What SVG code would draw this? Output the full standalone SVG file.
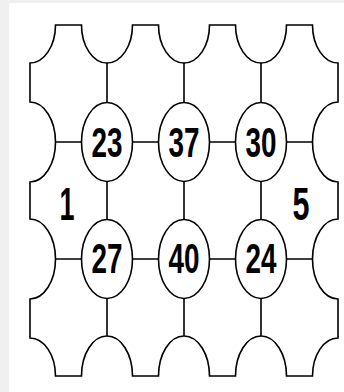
<svg xmlns="http://www.w3.org/2000/svg" width="344" height="392" viewBox="0 0 344 392">
<style>
.ln{fill:none;stroke:#000;stroke-width:1.6}
.nd{fill:#fff;stroke:#000;stroke-width:1.6}
.t{font-family:"Liberation Sans",Arial,sans-serif;font-weight:bold;font-size:42px;text-anchor:middle;fill:#000}
.r{font-family:"Liberation Sans",Arial,sans-serif;font-weight:bold;font-size:46px;text-anchor:middle;fill:#000}
</style>
<rect x="0" y="0" width="344" height="392" fill="#f0f0f0"/>
<rect x="9" y="3" width="335" height="389" fill="#fff"/>
<g id="outline">
<path class="ln" d="M30,63 A25.5,38 0 0 0 55.5,25 L81.5,25 A25.5,38 0 0 0 132.5,25 L158.5,25 A25.5,38 0 0 0 209.5,25 L235.5,25 A25.5,38 0 0 0 286.5,25 L312.5,25 A25.5,38 0 0 0 338,63 L338,102 A25.5,40 0 0 0 338,182 L338,219 A25.5,40 0 0 0 338,299 L338,338 A25.5,38 0 0 0 312.5,376 L286.5,376 A25.5,40 0 0 0 235.5,376 L209.5,376 A25.5,40 0 0 0 158.5,376 L132.5,376 A25.5,40 0 0 0 81.5,376 L55.5,376 A25.5,38 0 0 0 30,338 L30,299 A25.5,40 0 0 0 30,219 L30,182 A25.5,40 0 0 0 30,102 Z"/>
</g>
<g id="connectors" class="ln">
<path d="M55.5,142H81.5M132.5,142H158.5M209.5,142H235.5M286.5,142H312.5"/>
<path d="M55.5,259H81.5M132.5,259H158.5M209.5,259H235.5M286.5,259H312.5"/>
<path d="M107,63V102.5M107,181.5V219.5M107,298.5V336"/>
<path d="M184,63V102.5M184,181.5V219.5M184,298.5V336"/>
<path d="M261,63V102.5M261,181.5V219.5M261,298.5V336"/>
</g>
<g id="n23"><ellipse class="nd" cx="107" cy="142" rx="25.5" ry="39.5"/><text class="t" x="107" y="157" textLength="31" lengthAdjust="spacingAndGlyphs">23</text></g>
<g id="n37"><ellipse class="nd" cx="184" cy="142" rx="25.5" ry="39.5"/><text class="t" x="184" y="157" textLength="31" lengthAdjust="spacingAndGlyphs">37</text></g>
<g id="n30"><ellipse class="nd" cx="261" cy="142" rx="25.5" ry="39.5"/><text class="t" x="261" y="157" textLength="31" lengthAdjust="spacingAndGlyphs">30</text></g>
<g id="n27"><ellipse class="nd" cx="107" cy="259" rx="25.5" ry="39.5"/><text class="t" x="107" y="273" textLength="31" lengthAdjust="spacingAndGlyphs">27</text></g>
<g id="n40"><ellipse class="nd" cx="184" cy="259" rx="25.5" ry="39.5"/><text class="t" x="184" y="273" textLength="31" lengthAdjust="spacingAndGlyphs">40</text></g>
<g id="n24"><ellipse class="nd" cx="261" cy="259" rx="25.5" ry="39.5"/><text class="t" x="261" y="273" textLength="31" lengthAdjust="spacingAndGlyphs">24</text></g>
<g id="label1"><text class="r" x="67" y="220" textLength="15" lengthAdjust="spacingAndGlyphs">1</text></g>
<g id="label5"><text class="r" x="301" y="220" textLength="17" lengthAdjust="spacingAndGlyphs">5</text></g>
</svg>
